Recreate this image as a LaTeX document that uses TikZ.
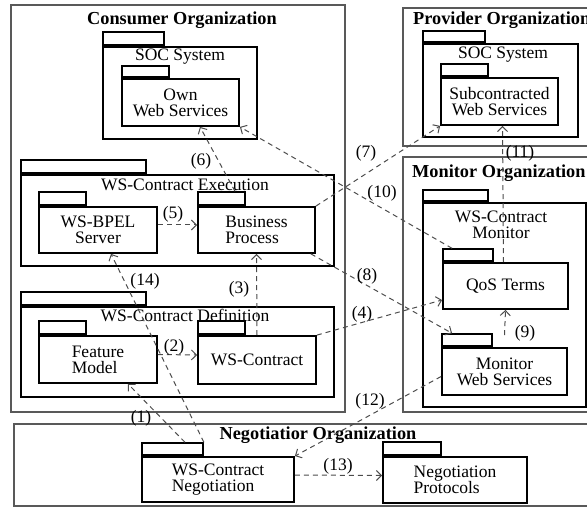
\documentclass[tikz,border=0pt]{standalone}
\usepackage{fontspec}
\setmainfont{Liberation Serif}
\usetikzlibrary{arrows.meta}

\begin{document}
\begin{tikzpicture}[x=1pt,y=-1pt]
    \tikzstyle{org} = [draw=black!65, line width=1.3pt]
    \tikzstyle{pkg} = [draw, line width=1.8pt, inner sep=0pt, align=center, font=\fontsize{17.5}{16}\selectfont]
    \tikzstyle{tab} = [draw, line width=1.8pt, inner sep=0pt, anchor=south west]
    \tikzstyle{txt} = [inner sep=0pt, align=center, font=\fontsize{17.5}{16}\selectfont]
    \tikzstyle{ttl} = [inner sep=0pt, font=\bfseries\fontsize{18.3}{20}\selectfont]
    \tikzstyle{dep} = [draw=black!70, line width=1pt, dash pattern=on 5pt off 4pt, -{Straight Barb[length=5pt,width=10pt]}]

    \useasboundingbox (0,0) rectangle (587,508);
    \clip (0,0) rectangle (587,508);

    % organizations
    \draw[org] (11,5) rectangle (345,412);
    \draw[org] (403,8) rectangle (600,146);
    \draw[org] (403,157) rectangle (600,412);
    \draw[org] (14,424) rectangle (600,506);

    \node[ttl] (consT) at (182,20) {Consumer Organization};
    \node[ttl, anchor=west] (provT) at (413,20) {Provider Organization};
    \node[ttl, anchor=west] (monT) at (412,173) {Monitor Organization};
    \node[ttl] (negT) at (318,435) {Negotiatior Organization};

    % consumer packages
    \node[pkg, minimum width=154pt, minimum height=92pt] (socC) at (180,93) {};
    \node[txt] (socC-l) at (180,57) {SOC System};
    \node[pkg, minimum width=117pt, minimum height=47pt] (ownWS) at (180.5,102.5) {Own\\Web Services};

    \node[pkg, minimum width=313pt, minimum height=91pt] (exec) at (177.5,220.5) {};
    \node[txt] (exec-l) at (185,185) {WS-Contract Execution};
    \node[pkg, minimum width=118pt, minimum height=46pt] (bpel) at (98,230) {WS-BPEL\\Server};
    \node[pkg, minimum width=117pt, minimum height=46pt, align=left] (bproc) at (256.5,230) {Business\\Process};

    \node[pkg, minimum width=313pt, minimum height=90pt] (defn) at (177.5,352) {};
    \node[txt] (defn-l) at (185,315) {WS-Contract Definition};
    \node[pkg, minimum width=118pt, minimum height=47pt, align=left] (feat) at (98,359.5) {Feature\\Model};
    \node[pkg, minimum width=118pt, minimum height=48pt] (wsc) at (257,360) {WS-Contract};

    % provider packages
    \node[pkg, minimum width=155pt, minimum height=93pt] (socP) at (500.5,90.5) {};
    \node[txt] (socP-l) at (503,55) {SOC System};
    \node[pkg, minimum width=117pt, minimum height=47pt] (subWS) at (499.5,101.5) {Subcontracted\\Web Services};

    % monitor packages
    \node[pkg, minimum width=163pt, minimum height=204pt] (mon) at (504.5,305) {};
    \node[txt] (mon-l) at (501,224.5) {WS-Contract\\Monitor};
    \node[pkg, minimum width=125pt, minimum height=46pt] (qos) at (505.5,286) {QoS Terms};
    \node[pkg, minimum width=125pt, minimum height=47pt] (monWS) at (504.5,371.5) {Monitor\\Web Services};

    % negotiation packages
    \node[pkg, minimum width=152pt, minimum height=45pt, align=left] (neg) at (218,479.5) {WS-Contract\\Negotiation};
    \node[pkg, minimum width=144pt, minimum height=46pt, align=left] (proto) at (455,480) {Negotiation\\Protocols};

    \foreach \n/\w/\h in {socC/61/13, ownWS/47/11, exec/125/13, bpel/47/13, bproc/47/13,
                          defn/125/13, feat/47/13, wsc/47/13, socP/62/11, subWS/47/12,
                          mon/65/11, qos/50/12, monWS/50/12, neg/61/12, proto/58/13}
        \node[tab, minimum width=\w pt, minimum height=\h pt] (\n-t) at (\n.north west) {};

    % dependencies
    \draw[dep] ([xshift=12.5pt]neg-t.north) -- ([xshift=30pt]feat.south);
    \draw[dep] ([yshift=5pt]feat.east) -- ([yshift=5pt]wsc.west);
    \draw[dep] (wsc.north) -- (bproc.south);
    \draw[dep] (wsc.north east) -- ([yshift=-14pt]qos.west);
    \draw[dep] ([yshift=5pt]bpel.east) -- ([yshift=5pt]bproc.west);
    \draw[dep] ([xshift=13.5pt]bproc-t.north) -- ([xshift=19.5pt]ownWS.south);
    \draw[dep] (bproc.north east) -- (subWS.south west);
    \draw[dep] ([xshift=-5pt]bproc.south east) -- ([xshift=11pt]monWS-t.north west);
    \draw[dep] ([yshift=12pt]monWS.north) -- (qos.south);
    \draw[dep] ([xshift=-16pt]qos-t.north) -- (ownWS.south east);
    \draw[dep] ([xshift=-2pt]qos.north) -- ([xshift=3pt]subWS.south);
    \draw[dep] ([yshift=-5pt]monWS.west) -- (neg.north east);
    \draw[dep] ([yshift=4.5pt]neg.east) -- ([yshift=4.5pt]proto.west);
    \draw[dep] (neg-t.north east) -- ([xshift=13pt]bpel.south);

    \foreach \n/\x/\y in {1/141/418, 2/174/347, 3/239/289, 4/362/314, 5/173/214,
                          6/201/161, 7/366/153, 8/367/276, 9/525/333, 10/382/193,
                          11/520/153, 12/370/401, 13/338/466, 14/145/281}
        \node[txt] (l\n) at (\x,\y) {(\n)};
\end{tikzpicture}
\end{document}
